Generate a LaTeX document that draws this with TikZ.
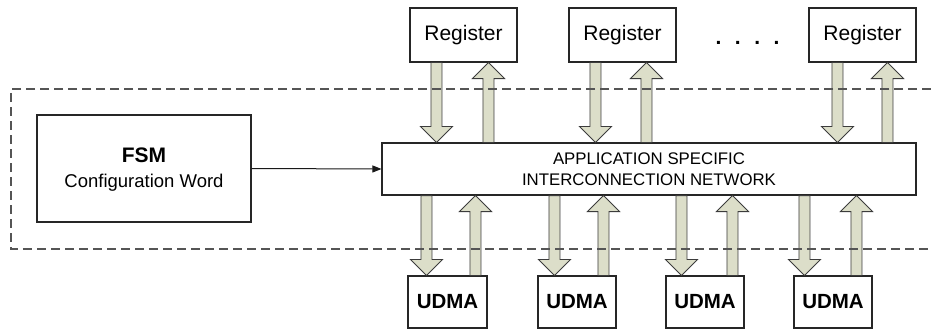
\documentclass[tikz,border=0pt]{standalone}
\usepackage{fontspec}
\setmainfont{Liberation Sans}
\usetikzlibrary{calc,arrows.meta}
\definecolor{busfill}{HTML}{DCDEC9}
\definecolor{busline}{HTML}{3C3C3C}
\definecolor{frameline}{HTML}{555555}
\begin{document}
\begin{tikzpicture}[x=1pt,y=-1pt,
  box/.style={draw=black!85, line width=1.1pt, fill=white, inner sep=0pt},
  regbox/.style={box, minimum width=107pt, minimum height=54pt,
                 font=\fontsize{21}{24}\selectfont},
  udmabox/.style={box, minimum width=78pt, minimum height=52pt,
                  font=\bfseries\fontsize{20.5}{24}\selectfont},
  bus/.style={draw=busline, fill=busfill, line width=0.9pt,
    to path={let \p1=(\tikztostart), \p2=(\tikztotarget),
                 \n1={16*sign(\y2-\y1)} in
      (\x1-5.5pt,\y1) -- (\x1-5.5pt,\y2-\n1) -- (\x1-16pt,\y2-\n1)
      -- (\x1,\y2) -- (\x1+16pt,\y2-\n1) -- (\x1+5.5pt,\y2-\n1)
      -- (\x1+5.5pt,\y1) -- cycle}},
  frame/.style={draw=frameline, line width=1.2pt, dash pattern=on 9pt off 5pt},
  ctrl/.style={draw=black!90, line width=1pt, -{Triangle[length=9pt,width=7pt]}}
]
\useasboundingbox (0,0) rectangle (931,329);

% register file
\node[regbox] (r1) at (463.5,35) {Register};
\node[regbox] (r2) at (622.5,35) {Register};
\node[regbox] (r3) at (862.5,35) {Register};
\node[font=\bfseries\fontsize{21}{24}\selectfont] (dots) at (747.5,43)
  {.\hspace{13.5pt}.\hspace{13.5pt}.\hspace{13.5pt}.};

% interconnection network
\node[box, minimum width=534pt, minimum height=52pt, align=center,
      font=\fontsize{16.8}{21}\selectfont] (net) at (649,169)
  {APPLICATION SPECIFIC\\INTERCONNECTION NETWORK};

% controller
\node[box, minimum width=214pt, minimum height=107pt] (fsm) at (144,168.5) {};
\node[font=\bfseries\fontsize{21}{24}\selectfont] (fsmt) at (144,155) {FSM};
\node[font=\fontsize{18.5}{22}\selectfont] (cfg) at (144,183) {Configuration Word};

% DMA units
\node[udmabox, minimum width=79pt] (u1) at (447.5,302) {UDMA};
\node[udmabox] (u2) at (577,302) {UDMA};
\node[udmabox] (u3) at (705,302) {UDMA};
\node[udmabox] (u4) at (833,302) {UDMA};

% control connection
\draw[ctrl] (fsm.east) -- (net.west);

% register <-> network buses
\foreach \r/\d/\u in {r1/27/79, r2/27/78, r3/29/79}{
  \coordinate (\r d) at ($(\r.south west)+(\d,0)$);
  \coordinate (\r u) at ($(\r.south west)+(\u,0)$);
  \draw[bus] (\r d) to (\r d |- net.north);
  \draw[bus] (\r u |- net.north) to (\r u);
}

% network <-> DMA buses
\foreach \m/\d/\u in {u1/19/68, u2/17/66, u3/16/67, u4/11/63}{
  \coordinate (\m d) at ($(\m.north west)+(\d,0)$);
  \coordinate (\m u) at ($(\m.north west)+(\u,0)$);
  \draw[bus] (\m d |- net.south) to (\m d);
  \draw[bus] (\m u) to (\m u |- net.south);
}

% configurable region
\draw[frame] (931,89) -- (11,89) -- (11,249) -- (931,249);
\end{tikzpicture}
\end{document}
